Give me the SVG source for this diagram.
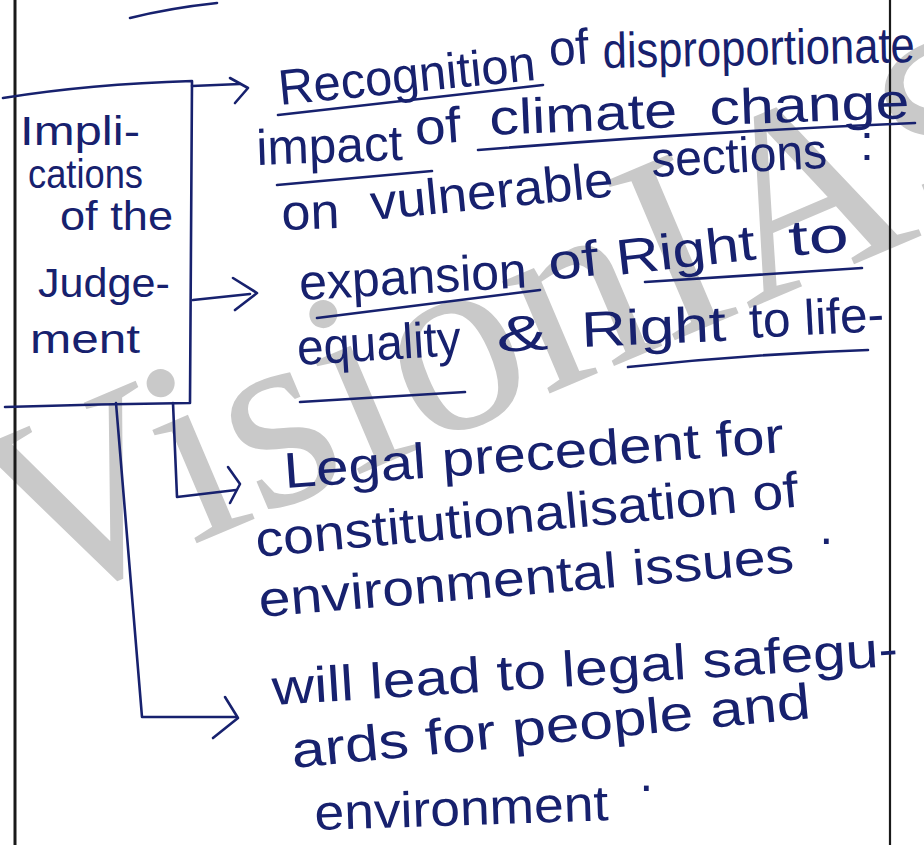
<svg xmlns="http://www.w3.org/2000/svg" width="924" height="845" viewBox="0 0 924 845">
<style>
.ink{fill:none;stroke:#17216e;stroke-width:2.6;stroke-linecap:round;stroke-linejoin:round}
.margin{fill:none;stroke:#1a1a1a;stroke-width:3}
.t{font-family:"Liberation Sans","DejaVu Sans",sans-serif;font-size:50px;fill:#17216e}
.b{font-size:40px}
.wm{font-family:"Liberation Serif","DejaVu Serif",serif;font-size:265px;fill:#c9c9c9}
</style>
<rect width="924" height="845" fill="#ffffff"/>
<g id="watermark">
<text class="wm" x="30" y="614" transform="rotate(-23 30 614)">VisionIAS</text>
</g>
<g id="page">
<line class="margin" x1="15" y1="0" x2="15" y2="845"/>
<line class="margin" x1="890" y1="0" x2="890" y2="845" style="stroke-width:2.2"/>
<path class="ink" d="M130 18 Q170 8 217 3"/>
</g>
<g id="judgement">
<path class="ink" d="M3 98 Q90 84 192 81 L190 403 Q100 404 5 407"/>
<text class="t b" x="20" y="145" textLength="120" lengthAdjust="spacingAndGlyphs">Impli-</text>
<text class="t b" x="28" y="188" textLength="115" lengthAdjust="spacingAndGlyphs">cations</text>
<text class="t b" x="60" y="230" textLength="113" lengthAdjust="spacingAndGlyphs">of the</text>
<text class="t b" x="38" y="297" textLength="132" lengthAdjust="spacingAndGlyphs">Judge-</text>
<text class="t b" x="30" y="353" textLength="110" lengthAdjust="spacingAndGlyphs">ment</text>
</g>
<g id="connectors">
<path class="ink" d="M192 86 L240 84"/>
<path class="ink" d="M230 78 L248 88 L235 103"/>
<path class="ink" d="M193 300 L250 294"/>
<path class="ink" d="M233 278 L257 293 L235 310"/>
<path class="ink" d="M173 403 L177 497 L236 490"/>
<path class="ink" d="M228 467 L240 484 L230 503"/>
<path class="ink" d="M116 403 L142 717 L236 717"/>
<path class="ink" d="M225 697 L238 718 L213 738"/>
</g>
<g id="impact">
<text class="t" x="280" y="105" transform="rotate(-5.6 280 105)" textLength="258" lengthAdjust="spacingAndGlyphs">Recognition</text>
<text class="t" x="550" y="66" transform="rotate(-4 550 66)" textLength="40" lengthAdjust="spacingAndGlyphs">of</text>
<text class="t" x="603" y="68" transform="rotate(-1.1 603 68)" textLength="312" lengthAdjust="spacingAndGlyphs">disproportionate</text>
<text class="t" x="257" y="165" transform="rotate(-2 257 165)" textLength="146" lengthAdjust="spacingAndGlyphs">impact</text>
<text class="t" x="416" y="145" transform="rotate(-4 416 145)" textLength="46" lengthAdjust="spacingAndGlyphs">of</text>
<text class="t" x="490" y="135" transform="rotate(-2.4 490 135)" textLength="188" lengthAdjust="spacingAndGlyphs">climate</text>
<text class="t" x="710" y="125" transform="rotate(-2 710 125)" textLength="200" lengthAdjust="spacingAndGlyphs">change</text>
<text class="t" x="282" y="230" transform="rotate(-2 282 230)" textLength="58" lengthAdjust="spacingAndGlyphs">on</text>
<text class="t" x="372" y="220" transform="rotate(-5.6 372 220)" textLength="244" lengthAdjust="spacingAndGlyphs">vulnerable</text>
<text class="t" x="652" y="177" transform="rotate(-3 652 177)" textLength="176" lengthAdjust="spacingAndGlyphs">sections</text>
<text class="t" x="860" y="160">:</text>
<path class="ink" d="M278 115 Q410 100 543 85"/>
<path class="ink" d="M277 185 L432 171"/>
<path class="ink" d="M478 150 Q700 132 915 123"/>
</g>
<g id="rights">
<text class="t" x="300" y="300" transform="rotate(-3.2 300 300)" textLength="228" lengthAdjust="spacingAndGlyphs">expansion</text>
<text class="t" x="550" y="280" transform="rotate(-6 550 280)" textLength="50" lengthAdjust="spacingAndGlyphs">of</text>
<text class="t" x="618" y="275" transform="rotate(-6.5 618 275)" textLength="140" lengthAdjust="spacingAndGlyphs">Right</text>
<text class="t" x="790" y="256" transform="rotate(-5 790 256)" textLength="60" lengthAdjust="spacingAndGlyphs">to</text>
<text class="t" x="298" y="365" transform="rotate(-3.5 298 365)" textLength="164" lengthAdjust="spacingAndGlyphs">equality</text>
<text class="t" x="497" y="352" transform="rotate(-3 497 352)" textLength="52" lengthAdjust="spacingAndGlyphs">&amp;</text>
<text class="t" x="582" y="347" transform="rotate(-2.5 582 347)" textLength="145" lengthAdjust="spacingAndGlyphs">Right</text>
<text class="t" x="750" y="338" transform="rotate(-3 750 338)" textLength="135" lengthAdjust="spacingAndGlyphs">to life-</text>
<path class="ink" d="M317 318 L540 290"/>
<path class="ink" d="M645 282 L862 268"/>
<path class="ink" d="M300 402 L465 392"/>
<path class="ink" d="M628 367 Q750 354 868 350"/>
</g>
<g id="precedent">
<text class="t" x="285" y="488" transform="rotate(-4.1 285 488)" textLength="501" lengthAdjust="spacingAndGlyphs">Legal precedent for</text>
<text class="t" x="257" y="557" transform="rotate(-5.3 257 557)" textLength="545" lengthAdjust="spacingAndGlyphs">constitutionalisation of</text>
<text class="t" x="260" y="617" transform="rotate(-4.8 260 617)" textLength="537" lengthAdjust="spacingAndGlyphs">environmental issues</text>
<text class="t" x="818" y="555">·</text>
</g>
<g id="safeguards">
<text class="t" x="273" y="705" transform="rotate(-3.6 273 705)" textLength="627" lengthAdjust="spacingAndGlyphs">will lead to legal safegu-</text>
<text class="t" x="293" y="768" transform="rotate(-5.5 293 768)" textLength="521" lengthAdjust="spacingAndGlyphs">ards for people and</text>
<text class="t" x="315" y="830" transform="rotate(-1.9 315 830)" textLength="294" lengthAdjust="spacingAndGlyphs">environment</text>
<text class="t" x="638" y="802">·</text>
</g>
</svg>
